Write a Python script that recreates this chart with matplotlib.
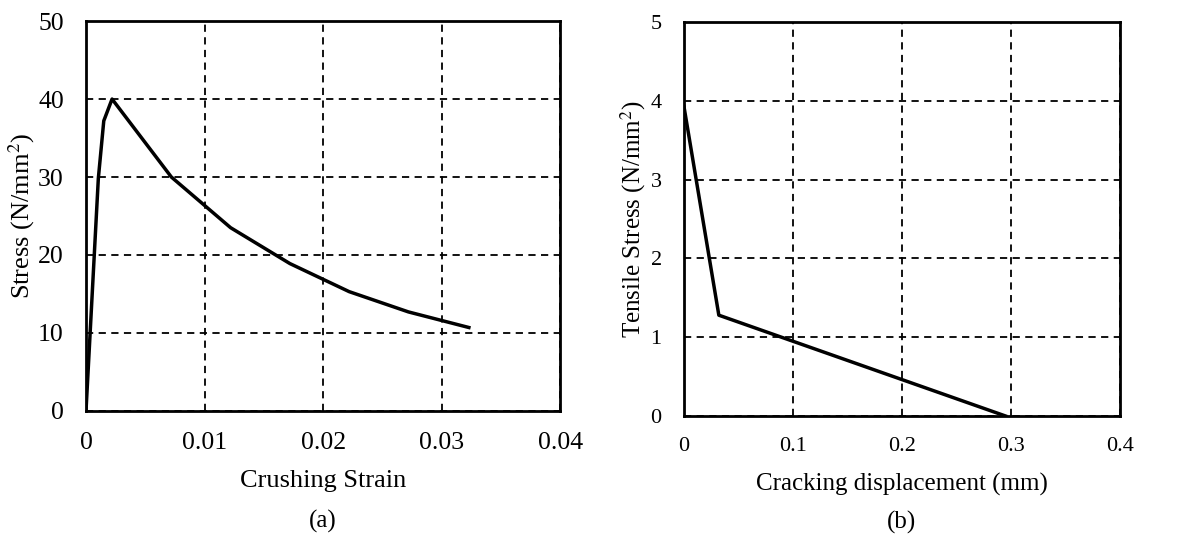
import matplotlib
matplotlib.use("Agg")
import matplotlib.pyplot as plt

plt.rcParams['font.family'] = ['Liberation Serif', 'DejaVu Serif']
plt.rcParams['mathtext.fontset'] = 'stix'

# (a) compressive behaviour
crush_strain = [0.0, 0.00104, 0.0015, 0.0022, 0.0072, 0.0122, 0.0172, 0.0222, 0.0272, 0.0323]
crush_stress = [0.0, 29.8, 37.2, 40.0, 30.0, 23.5, 18.9, 15.3, 12.7, 10.7]

# (b) tensile behaviour
crack_disp = [0.0, 0.032, 0.295]
tens_stress = [3.93, 1.28, 0.0]

a_xticks = [0, 0.01, 0.02, 0.03, 0.04]
a_xlabels = ['0', '0.01', '0.02', '0.03', '0.04']
a_yticks = [0, 10, 20, 30, 40, 50]
b_xticks = [0, 0.1, 0.2, 0.3, 0.4]
b_xlabels = ['0', '0.1', '0.2', '0.3', '0.4']
b_yticks = [0, 1, 2, 3, 4, 5]

fig = plt.figure(figsize=(11.78, 5.4), dpi=100)
ax1 = fig.add_axes([0.073, 0.239, 0.4025, 0.722])
ax2 = fig.add_axes([0.5806, 0.2296, 0.3702, 0.7294])


def style(ax, tick_size):
    ax.grid(True, color='black', linestyle=(0, (4, 3)), linewidth=1.3)
    ax.set_axisbelow(True)
    for s in ax.spines.values():
        s.set_linewidth(2)
        s.set_color('black')
    ax.tick_params(length=0, labelsize=tick_size)
    ax.tick_params(axis='x', pad=15)
    ax.tick_params(axis='y', pad=16)


ax1.plot(crush_strain, crush_stress, color='black', linewidth=2.5)
ax1.set_xlim(0, 0.04)
ax1.set_ylim(0, 50)
ax1.set_xticks(a_xticks)
ax1.set_xticklabels(a_xlabels)
ax1.set_yticks(a_yticks)
style(ax1, 18.5)
ax1.set_xlabel('Crushing Strain', fontsize=19, labelpad=12)
ax1.set_ylabel('Stress (N/mm$^2$)', fontsize=19, labelpad=1)
ax1.text(0.5, -0.284, '(a)', transform=ax1.transAxes, ha='center', va='center', fontsize=18)

ax2.plot(crack_disp, tens_stress, color='black', linewidth=2.5)
ax2.set_xlim(0, 0.4)
ax2.set_ylim(0, 5)
ax2.set_xticks(b_xticks)
ax2.set_xticklabels(b_xlabels)
ax2.set_yticks(b_yticks)
style(ax2, 16)
ax2.set_xlabel('Cracking displacement (mm)', fontsize=18, labelpad=12)
ax2.set_ylabel('Tensile Stress (N/mm$^2$)', fontsize=18, labelpad=2)
ax2.text(0.5, -0.269, '(b)', transform=ax2.transAxes, ha='center', va='center', fontsize=18)

fig.savefig('out.png', dpi=100)
